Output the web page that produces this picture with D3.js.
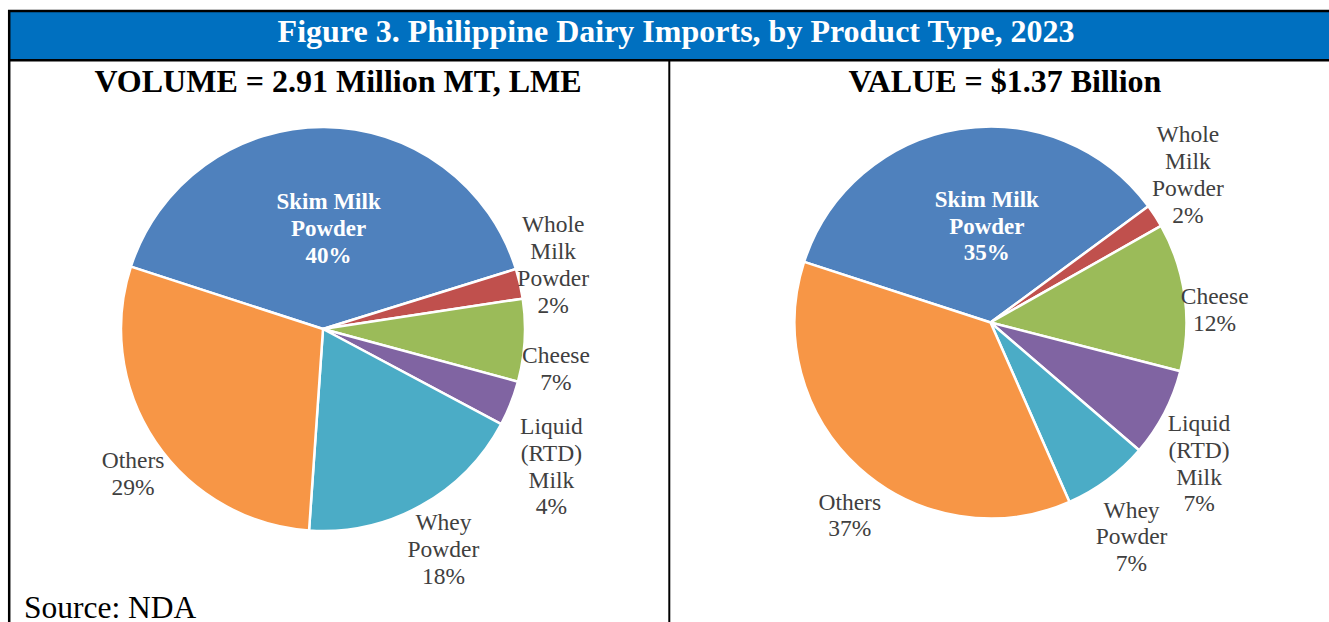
<!DOCTYPE html>
<html>
<head>
<meta charset="utf-8">
<script src="https://cdn.jsdelivr.net/npm/d3@7"></script>
<style>
  body { margin: 0; background: #fff; }
</style>
</head>
<body>
<div id="container"></div>
<script>
/* DATA */
const categories = ["Skim Milk Powder", "Whole Milk Powder", "Cheese", "Liquid (RTD) Milk", "Whey Powder", "Others"];
// how each label breaks into lines
const labelLines = [["Skim Milk", "Powder"], ["Whole", "Milk", "Powder"], ["Cheese"], ["Liquid", "(RTD)", "Milk"], ["Whey", "Powder"], ["Others"]];
const volumeShares = [40.2, 2.4, 6.6, 3.6, 18.3, 28.9];   // % of 2.91 million MT, LME
const valueShares = [34.9, 1.9, 12.2, 7.3, 7.1, 36.6];    // % of $1.37 billion
const colors = ["#4F81BD", "#C0504D", "#9BBB59", "#8064A2", "#4BACC6", "#F79646"];

const width = 1329, height = 622;
const serif = "'Liberation Serif', 'Times New Roman', Tinos, 'DejaVu Serif', serif";

const svg = d3.select("#container").append("svg")
  .attr("width", width)
  .attr("height", height)
  .style("font-family", serif);

// header band + frame
svg.append("rect")
  .attr("x", 9).attr("y", 11)
  .attr("width", width + 20).attr("height", 49)
  .attr("fill", "#0070C0");

svg.append("line") // top border
  .attr("x1", 8).attr("x2", width).attr("y1", 11).attr("y2", 11)
  .attr("stroke", "#000").attr("stroke-width", 2.5);
svg.append("line") // under header
  .attr("x1", 8).attr("x2", width).attr("y1", 60.3).attr("y2", 60.3)
  .attr("stroke", "#000").attr("stroke-width", 2.5);
svg.append("line") // left border
  .attr("x1", 9.2).attr("x2", 9.2).attr("y1", 10).attr("y2", height)
  .attr("stroke", "#000").attr("stroke-width", 2.5);
svg.append("line") // panel divider
  .attr("x1", 669.3).attr("x2", 669.3).attr("y1", 60).attr("y2", height)
  .attr("stroke", "#000").attr("stroke-width", 2);

svg.append("text")
  .attr("x", 676).attr("y", 42)
  .attr("text-anchor", "middle")
  .attr("fill", "#fff")
  .attr("font-weight", "bold")
  .attr("font-size", 32)
  .text("Figure 3. Philippine Dairy Imports, by Product Type, 2023");

svg.append("text")
  .attr("x", 24).attr("y", 618)
  .attr("font-size", 31.5)
  .attr("fill", "#000")
  .text("Source: NDA");

// one pie panel
function drawPie(opts) {
  const g = svg.append("g").attr("transform", `translate(${opts.cx},${opts.cy})`);

  svg.append("text")
    .attr("x", opts.titleX).attr("y", 92)
    .attr("text-anchor", "middle")
    .attr("font-weight", "bold")
    .attr("font-size", 32)
    .text(opts.title);

  const pie = d3.pie()
    .sort(null)
    .startAngle(-72 * Math.PI / 180)
    .endAngle(288 * Math.PI / 180);

  const arcs = pie(opts.values);
  const arc = d3.arc().innerRadius(0).outerRadius(opts.r);

  g.selectAll("path")
    .data(arcs)
    .join("path")
    .attr("d", arc)
    .attr("fill", (d, i) => colors[i])
    .attr("stroke", "#fff")
    .attr("stroke-width", 2.5)
    .attr("stroke-linejoin", "round");

  const lineH = 26.8;
  arcs.forEach((d, i) => {
    const mid = (d.startAngle + d.endAngle) / 2;
    const inside = i === 0;
    const R = inside ? opts.r * 0.47 : opts.r * 1.2;
    const nudge = opts.nudges[i];
    const x = R * Math.sin(mid) + nudge[0];
    const y = -R * Math.cos(mid) + nudge[1];
    const lines = labelLines[i].concat([Math.round(d.data) + "%"]);
    const t = g.append("text")
      .attr("text-anchor", "middle")
      .attr("font-size", inside ? 23 : 23.5)
      .attr("fill", inside ? "#fff" : "#404040")
      .attr("font-weight", inside ? "bold" : "normal");
    lines.forEach((ln, k) => {
      t.append("tspan")
        .attr("x", x)
        .attr("y", y + (k - (lines.length - 1) / 2) * lineH)
        .text(ln);
    });
  });
}

drawPie({
  cx: 323, cy: 329, r: 202,
  titleX: 338,
  title: "VOLUME = 2.91 Million MT, LME",
  values: volumeShares,
  nudges: [[5, 2], [-6, -2], [-9, 34], [3, 56], [3, 16], [11, 17]]
});

drawPie({
  cx: 990.5, cy: 322.5, r: 196,
  titleX: 1005,
  title: "VALUE = $1.37 Billion",
  values: valueShares,
  nudges: [[11, 2], [0, -12], [-9, 26], [0, 40], [1, 33], [17, 26]]
});
</script>
</body>
</html>
